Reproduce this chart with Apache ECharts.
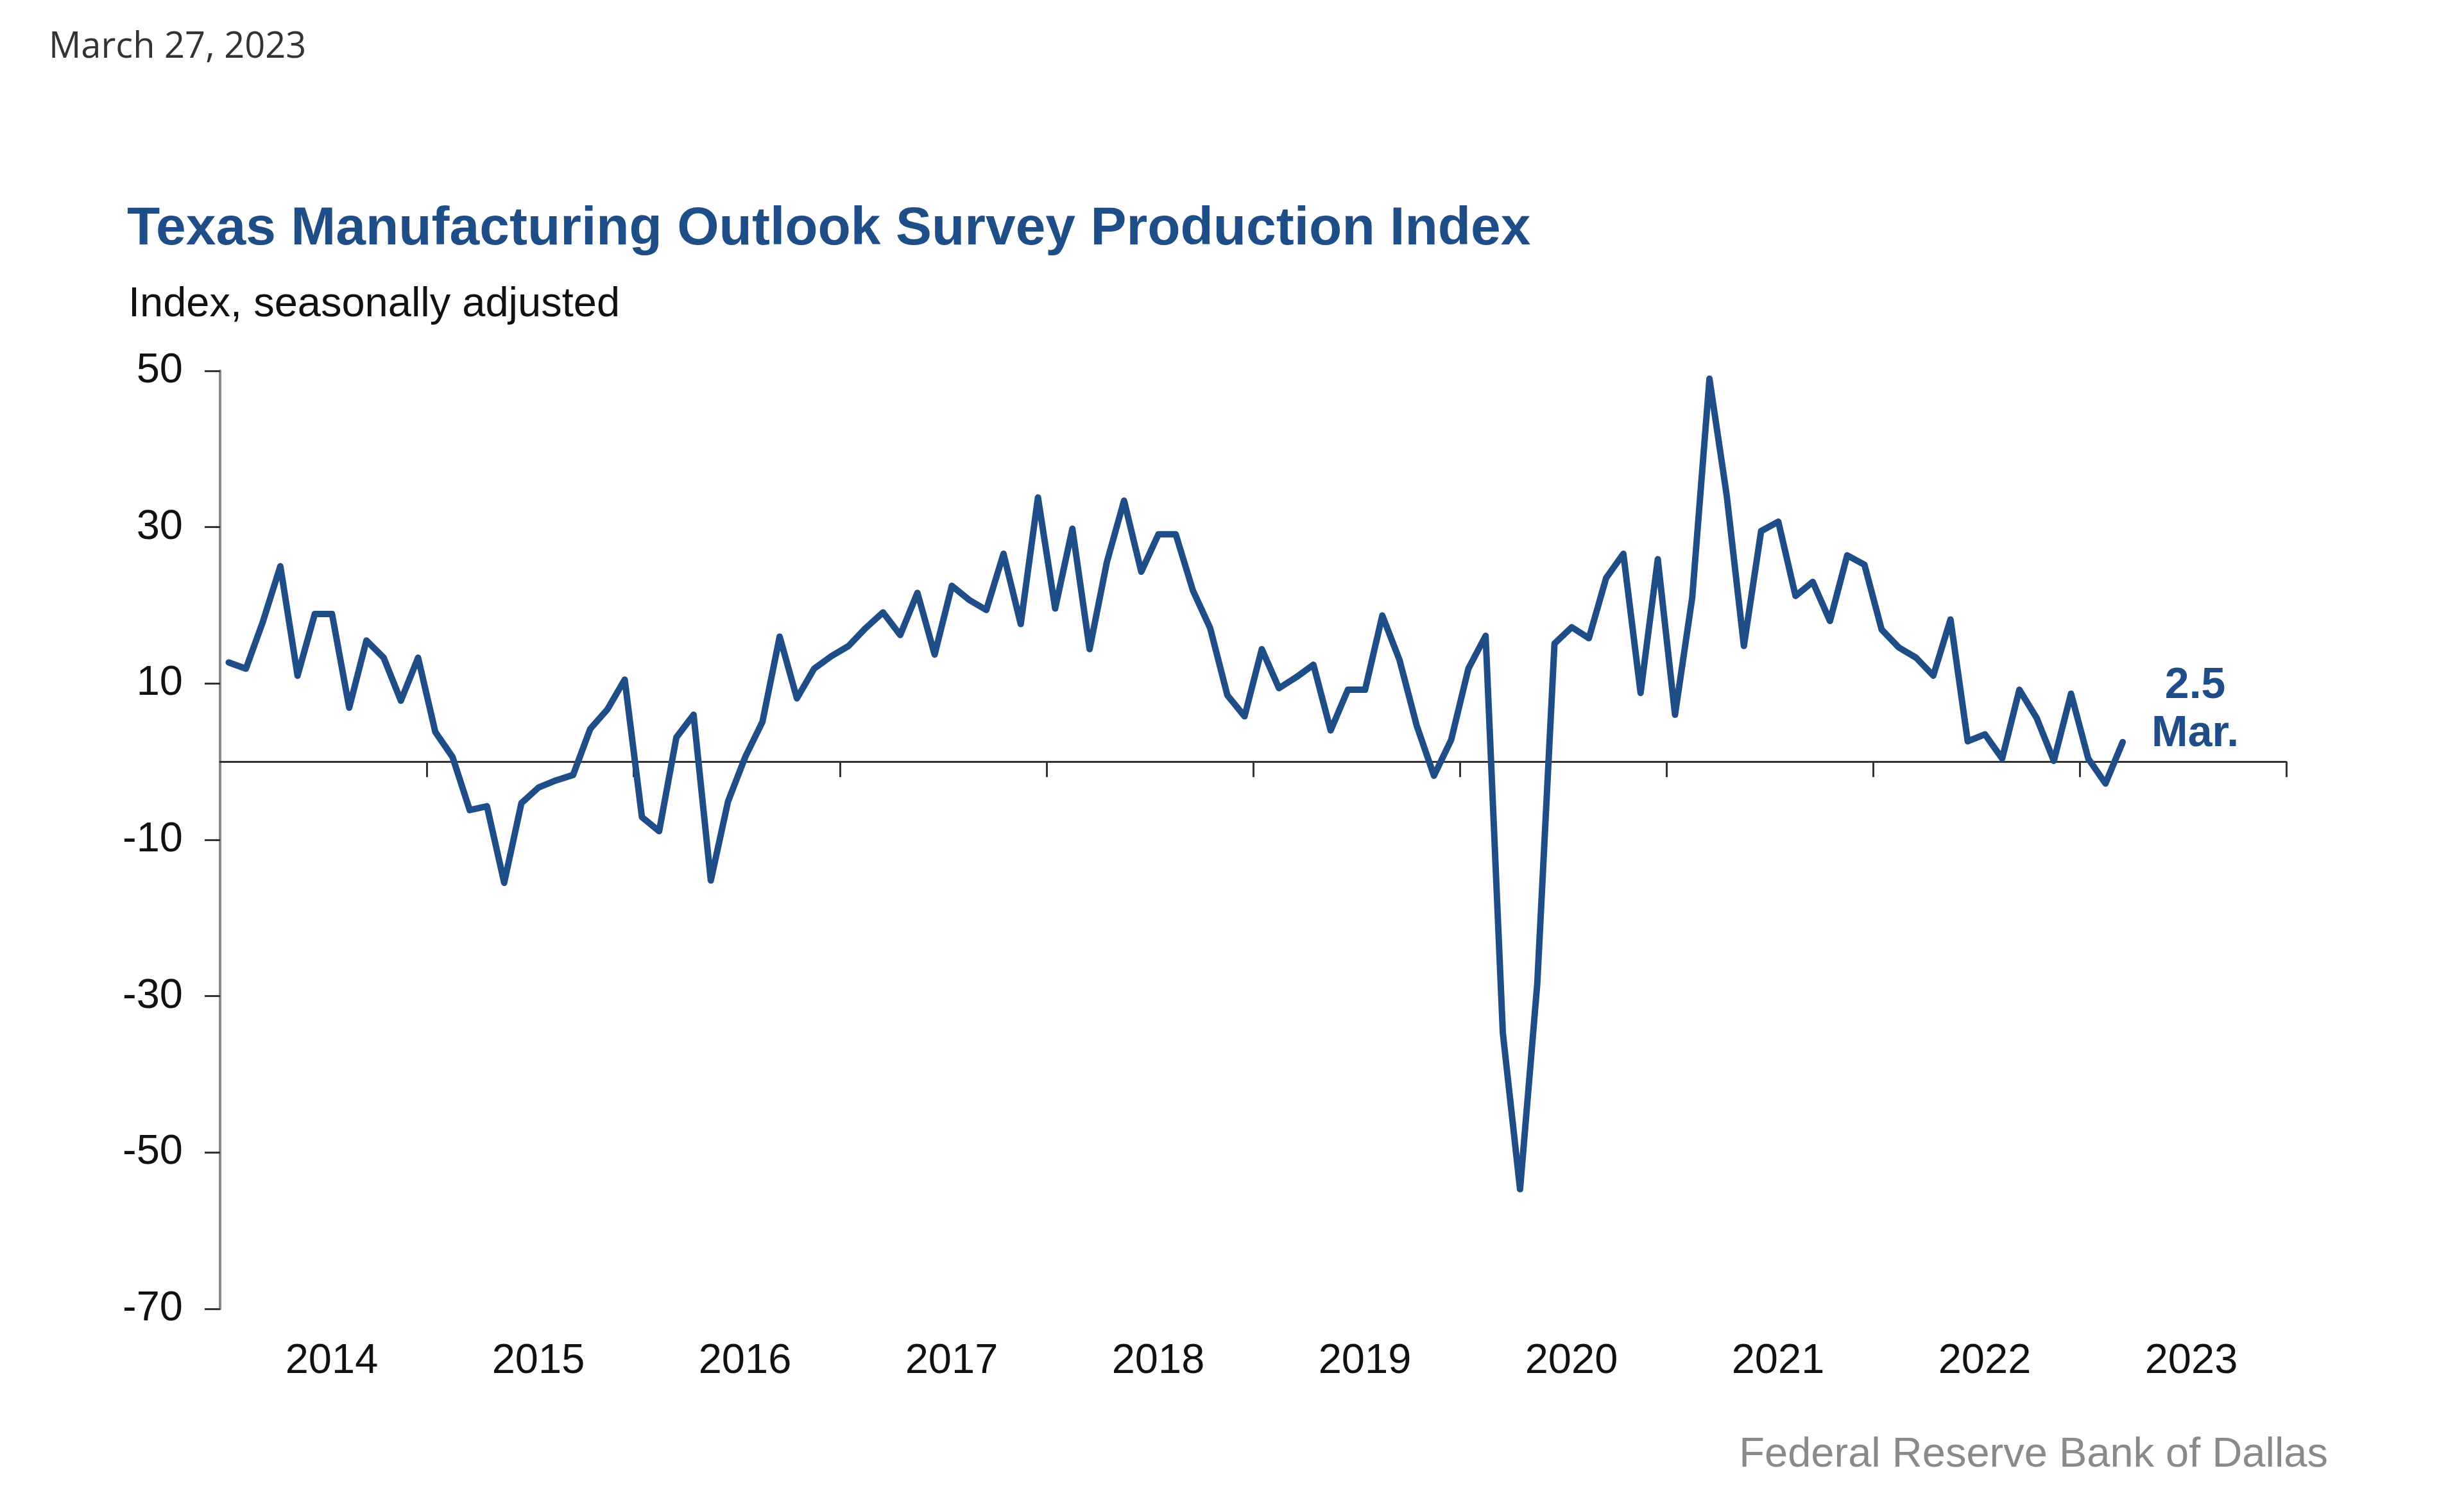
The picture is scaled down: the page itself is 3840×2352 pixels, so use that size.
<!DOCTYPE html>
<html>
<head>
<meta charset="utf-8">
<script src="https://cdn.jsdelivr.net/npm/echarts@6/dist/echarts.min.js"></script>
<style>
html,body{margin:0;padding:0;background:#ffffff;}
#chart{width:3840px;height:2352px;}
</style>
</head>
<body>
<div id="chart"></div>
<script>
// ---------- DATA ----------
const years = ['2014','2015','2016','2017','2018','2019','2020','2021','2022','2023'];
const yTickValues = [-70, -50, -30, -10, 10, 30, 50];
// Monthly production index, Jan 2014 .. Mar 2023 (seasonally adjusted)
const production = [
  12.7, 11.9, 18.0, 25.0, 11.0, 18.9, 18.9, 6.9, 15.5, 13.3, 7.8, 13.3,      // 2014
  3.8, 0.6, -6.2, -5.7, -15.5, -5.3, -3.3, -2.4, -1.7, 4.2, 6.7, 10.5,       // 2015
  -7.1, -8.9, 3.1, 6.0, -15.2, -5.1, 0.6, 5.1, 16.0, 8.1, 11.9, 13.5,        // 2016
  14.8, 17.1, 19.1, 16.2, 21.6, 13.7, 22.5, 20.7, 19.4, 26.6, 17.6, 33.8,    // 2017
  19.6, 29.8, 14.4, 25.5, 33.4, 24.3, 29.1, 29.1, 21.9, 17.1, 8.5, 5.8,      // 2018
  14.4, 9.4, 10.8, 12.4, 4.0, 9.2, 9.2, 18.7, 13.0, 4.6, -1.8, 2.8,          // 2019
  11.9, 16.1, -34.7, -54.7, -28.4, 15.1, 17.2, 15.8, 23.5, 26.6, 8.8, 25.9,  // 2020
  6.0, 21.0, 49.0, 34.1, 14.8, 29.5, 30.7, 21.2, 23.0, 18.0, 26.4, 25.2,     // 2021
  16.9, 14.6, 13.3, 11.0, 18.2, 2.6, 3.5, 0.4, 9.2, 5.6, 0.1, 8.7,           // 2022
  0.4, -2.8, 2.5                                                             // 2023
];
const latestValueText = '2.5';
const latestMonthText = 'Mar.';
const dateText = 'March 27, 2023';
const titleText = 'Texas Manufacturing Outlook Survey Production Index';
const subtitleText = 'Index, seasonally adjusted';
const sourceText = 'Federal Reserve Bank of Dallas';

// ---------- BUILD ----------
const MONTHS = 12;
const seriesData = production.map((v, i) => [i + 0.5, v]);
const yearBoundaries = years.map((y, k) => (k + 1) * MONTHS);
const BLUE = '#1F4D88';
const FONT = '"Liberation Sans", Arial, Helvetica, sans-serif';

const chart = echarts.init(document.getElementById('chart'), null, {renderer: 'canvas'});

const option = {
  backgroundColor: '#ffffff',
  animation: false,
  grid: {left: 343, right: 277, top: 578, bottom: 312, containLabel: false, outerBoundsMode: 'none'},
  xAxis: [
    {
      type: 'value', min: 0, max: years.length * MONTHS, interval: MONTHS,
      axisLine: {show: true, onZero: true, lineStyle: {color: '#333333', width: 3}},
      axisTick: {show: true, length: 24, inside: false, lineStyle: {color: '#333333', width: 3}, customValues: yearBoundaries},
      axisLabel: {show: false},
      splitLine: {show: false}
    },
    {
      type: 'category', data: years, boundaryGap: true, position: 'bottom',
      axisLine: {show: false, onZero: false},
      axisTick: {show: false},
      axisLabel: {show: true, margin: 50, fontSize: 65, color: '#111111', fontFamily: FONT, padding: [0, 0, 0, 26]},
      splitLine: {show: false}
    }
  ],
  yAxis: {
    type: 'value', min: -70, max: 50, interval: 20,
    axisLine: {show: true, onZero: false, lineStyle: {color: '#8a8a8a', width: 4}},
    axisTick: {show: true, length: 24, lineStyle: {color: '#333333', width: 3}, customValues: yTickValues},
    axisLabel: {show: true, margin: 58, fontSize: 65, color: '#111111', fontFamily: FONT, customValues: yTickValues},
    splitLine: {show: false}
  },
  series: [{
    type: 'line', xAxisIndex: 0, yAxisIndex: 0,
    data: seriesData,
    showSymbol: false, symbol: 'none',
    lineStyle: {color: BLUE, width: 10, join: 'round', cap: 'round'},
    itemStyle: {color: BLUE},
    z: 5
  }]
};
chart.setOption(option);

// annotation anchored to last data point via the chart's own scales
const last = seriesData[seriesData.length - 1];
const p = chart.convertToPixel({xAxisIndex: 0, yAxisIndex: 0}, last);
const annX = p[0] + 113;

chart.setOption({
  graphic: [
    {type: 'text', left: 76, top: 46, style: {text: dateText, font: '56px "Open Sans", "Noto Sans", sans-serif', fill: '#333333'}},
    {type: 'text', x: 198, y: 358, style: {text: titleText, font: 'bold 84px ' + FONT, fill: BLUE, textAlign: 'left', textVerticalAlign: 'middle'}},
    {type: 'text', x: 200, y: 475, style: {text: subtitleText, font: '65px ' + FONT, fill: '#111111', textAlign: 'left', textVerticalAlign: 'middle'}},
    {type: 'text', x: 3628, y: 2268, style: {text: sourceText, font: '65px ' + FONT, fill: '#8a8a8a', textAlign: 'right', textVerticalAlign: 'middle'}},
    {type: 'text', x: annX, y: p[1] - 87, style: {text: latestValueText, font: 'bold 68px ' + FONT, fill: BLUE, textAlign: 'center', textVerticalAlign: 'middle'}},
    {type: 'text', x: annX, y: p[1] - 12, style: {text: latestMonthText, font: 'bold 68px ' + FONT, fill: BLUE, textAlign: 'center', textVerticalAlign: 'middle'}}
  ]
});
</script>
</body>
</html>
